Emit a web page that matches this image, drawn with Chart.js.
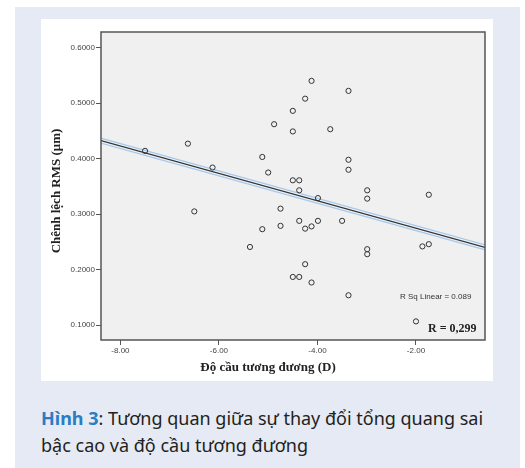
<!DOCTYPE html>
<html>
<head>
<meta charset="utf-8">
<script src="https://cdn.jsdelivr.net/npm/chart.js@4.4.1/dist/chart.umd.min.js"></script>
<style>
  html, body { margin: 0; padding: 0; background: #fff; }
  body { width: 525px; height: 468px; position: relative; overflow: hidden; }
  #box { position: absolute; left: 15px; top: 7px; width: 505px; height: 461px; background: #e6eaf5; }
  #panel { position: absolute; left: 41px; top: 19px; width: 452px; height: 362px; background: #fff; }
  #caption {
    position: absolute; left: 41px; top: 405px; width: 470px;
    font-family: "Noto Sans", sans-serif; font-size: 18px; line-height: 27px; color: #231f20;
  }
  #caption b { color: #2c7cc3; font-weight: 700; }
</style>
</head>
<body>
<div id="box"></div>
<div id="panel"><canvas id="chart" width="452" height="362"></canvas></div>
<div id="caption"><b>Hình 3</b>: Tương quan giữa sự thay đổi tổng quang sai bậc cao và độ cầu tương đương</div>
<script>
// scatter points (spherical equivalent D, RMS difference um)
const xValues = [-7.50, -6.63, -6.50, -6.13, -5.37, -5.12, -5.12, -5.00, -4.88, -4.75,
  -4.75, -4.50, -4.50, -4.50, -4.50, -4.37, -4.37, -4.37, -4.37, -4.25,
  -4.25, -4.25, -4.12, -4.12, -4.12, -3.99, -3.99, -3.74, -3.50, -3.37,
  -3.37, -3.37, -3.37, -2.99, -2.99, -2.99, -2.99, -2.00, -1.87, -1.74, -1.74];
const yValues = [0.414, 0.427, 0.305, 0.384, 0.241, 0.403, 0.273, 0.375, 0.462, 0.310,
  0.279, 0.486, 0.449, 0.361, 0.187, 0.361, 0.343, 0.288, 0.187, 0.508,
  0.274, 0.210, 0.540, 0.278, 0.177, 0.329, 0.288, 0.453, 0.288, 0.522,
  0.398, 0.380, 0.154, 0.343, 0.328, 0.237, 0.228, 0.107, 0.242, 0.246, 0.335];

// fitted line ends
const fitX = [-8.394, -0.599];
const fitY = [0.4324, 0.2403];

const xTicks = [-8, -6, -4, -2];
const yTicks = [0.1, 0.2, 0.3, 0.4, 0.5, 0.6];

const points = xValues.map((x, i) => ({x: x, y: yValues[i]}));
const fitLine = fitX.map((x, i) => ({x: x, y: fitY[i]}));

const frame = {
  id: 'frame',
  beforeDatasetsDraw(chart) {
    const a = chart.chartArea, ctx = chart.ctx;
    ctx.save();
    ctx.fillStyle = '#f0f0f0';
    ctx.fillRect(a.left, a.top, a.right - a.left, a.bottom - a.top);
    ctx.restore();
  },
  afterDraw(chart) {
    const a = chart.chartArea, ctx = chart.ctx;
    ctx.save();
    ctx.strokeStyle = '#555';
    ctx.lineWidth = 1.5;
    ctx.strokeRect(a.left, a.top, a.right - a.left, a.bottom - a.top);

    ctx.fillStyle = '#222';
    ctx.textAlign = 'center';
    ctx.textBaseline = 'middle';
    ctx.font = 'bold 13px "Liberation Serif", serif';
    ctx.fillText('Độ cầu tương đương (D)', 227, 349);
    ctx.save();
    ctx.translate(16, 172);
    ctx.rotate(-Math.PI / 2);
    ctx.fillText('Chênh lệch RMS (μm)', 0, 0);
    ctx.restore();

    ctx.fillStyle = '#333';
    ctx.textAlign = 'left';
    ctx.font = '8px "Liberation Sans", sans-serif';
    ctx.fillText('R Sq Linear = 0.089', 359, 278);
    ctx.fillStyle = '#222';
    ctx.font = 'bold 12px "Liberation Serif", serif';
    ctx.fillText('R = 0,299', 387, 310);
    ctx.restore();
  }
};

new Chart(document.getElementById('chart'), {
  type: 'scatter',
  data: {
    datasets: [
      {
        data: points,
        pointStyle: 'circle',
        pointRadius: 2.6,
        pointBorderWidth: 1,
        pointBorderColor: '#333',
        pointBackgroundColor: 'rgba(0,0,0,0)',
        order: 0
      },
      {
        type: 'line', data: fitLine, borderColor: '#333', borderWidth: 1.2,
        pointRadius: 0, fill: false, order: 1
      },
      {
        type: 'line', data: fitLine, borderColor: '#eef2f7', borderWidth: 3.5,
        pointRadius: 0, fill: false, order: 2, borderCapStyle: 'round'
      },
      {
        type: 'line', data: fitLine, borderColor: '#a6c8ea', borderWidth: 6,
        pointRadius: 0, fill: false, order: 3, borderCapStyle: 'round'
      }
    ]
  },
  options: {
    responsive: false,
    animation: false,
    layout: { padding: { top: 13, right: 8, left: 0, bottom: 0 } },
    plugins: { legend: { display: false }, tooltip: { enabled: false } },
    scales: {
      x: {
        type: 'linear',
        min: -8.394,
        max: -0.599,
        afterBuildTicks: (axis) => { axis.ticks = xTicks.map(v => ({value: v})); },
        afterFit: (axis) => { axis.height = 41; },
        border: { display: false },
        grid: { drawOnChartArea: false, drawTicks: true, tickLength: 5, color: '#555', lineWidth: 1 },
        ticks: {
          padding: 1,
          color: '#444',
          font: { family: '"Liberation Sans", sans-serif', size: 8 },
          callback: (v) => v.toFixed(2)
        }
      },
      y: {
        type: 'linear',
        min: 0.0735,
        max: 0.628,
        afterBuildTicks: (axis) => { axis.ticks = yTicks.map(v => ({value: v})); },
        afterFit: (axis) => { axis.width = 60; },
        border: { display: false },
        grid: { drawOnChartArea: false, drawTicks: true, tickLength: 5, color: '#555', lineWidth: 1 },
        ticks: {
          padding: 1,
          color: '#444',
          font: { family: '"Liberation Sans", sans-serif', size: 8 },
          callback: (v) => v.toFixed(4)
        }
      }
    }
  },
  plugins: [frame]
});
</script>
</body>
</html>
